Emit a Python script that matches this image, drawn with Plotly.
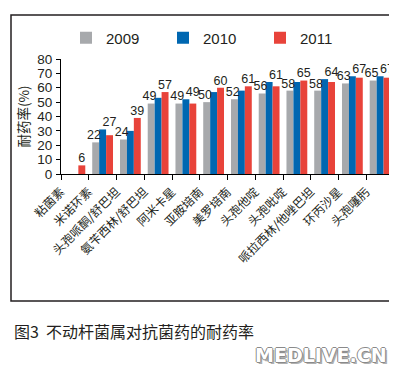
import plotly.graph_objects as go

categories = ["粘菌素", "米诺环素", "头孢哌酮/舒巴坦", "氨苄西林/舒巴坦", "阿米卡星", "亚胺培南",
              "美罗培南", "头孢他啶", "头孢吡啶", "哌拉西林/他唑巴坦", "环丙沙星", "头孢噻肟"]
years = ["2009", "2010", "2011"]
v2009 = [None, 22, 24, 49, 49, 50, 52, 56, 58, 58, 63, 65]
v2010 = [None, 31, 30, 53, 52, 57, 58, 64, 64, 66, 68, 68]
v2011 = [6, 27, 39, 57, 49, 60, 61, 61, 65, 64, 67, 67]
colors = ["#a7a9ac", "#0067b1", "#e8433a"]
y_ticks = [0, 10, 20, 30, 40, 50, 60, 70, 80]

FONT = "Liberation Sans, Arial, Noto Sans CJK SC, sans-serif"
CJK = "Noto Sans CJK SC, sans-serif"

W, H = 397, 369
L, R, T, B = 53, 11, 51, 203
pw, ph = W - L - R, H - T - B

def px_x(px):
    return (px - L) / pw

def px_y(py):
    return (H - B - py) / ph

xs = list(range(len(categories)))
fig = go.Figure()
for name, vals, col in zip(years, [v2009, v2010, v2011], colors):
    fig.add_trace(go.Bar(x=xs, y=vals, name=name, marker_color=col,
                         marker_line_width=0, showlegend=True))

bw = 0.75 / 3
fig.add_trace(go.Scatter(
    x=[i - bw - 0.06 for i in xs], y=v2009,
    text=[("" if v is None else str(v)) for v in v2009],
    mode="text", textposition="top center", showlegend=False, cliponaxis=False,
    textfont=dict(family=FONT, size=12.5, color="#231f20")))
top11 = [max([a for a in (b, r) if a is not None]) for b, r in zip(v2010, v2011)]
fig.add_trace(go.Scatter(
    x=[i + bw for i in xs], y=top11,
    text=[str(v) for v in v2011],
    mode="text", textposition="top center", showlegend=False, cliponaxis=False,
    textfont=dict(family=FONT, size=12.5, color="#231f20")))

fig.update_layout(
    width=W, height=H,
    margin=dict(l=L, r=R, t=T, b=B, autoexpand=False),
    paper_bgcolor="white", plot_bgcolor="white",
    barmode="group", bargap=0.25, bargroupgap=0,
    font=dict(family=FONT, color="#231f20"),
    legend=dict(orientation="h", x=px_x(58), y=px_y(30), xanchor="left", yanchor="middle",
                entrywidth=52, entrywidthmode="pixels",
                font=dict(family=FONT, size=15, color="#231f20"),
                bgcolor="rgba(0,0,0,0)", itemwidth=30, traceorder="normal"),
    xaxis=dict(range=[-0.5, len(categories) - 0.5],
               tickmode="array",
               tickvals=[i - 0.5 for i in range(len(categories) + 1)],
               ticktext=categories + [""],
               tickangle=-45, ticks="outside", ticklen=5, tickwidth=1.2, tickcolor="black",
               showline=True, linecolor="black", linewidth=1.2,
               showgrid=False, zeroline=False,
               tickfont=dict(family=CJK, size=12, color="#231f20")),
    yaxis=dict(range=[0, 80], tickvals=y_ticks,
               ticks="outside", ticklen=4, tickwidth=1.2, tickcolor="black",
               showline=True, linecolor="black", linewidth=1.2,
               showgrid=False, zeroline=False, ticklabelstandoff=1,
               tickfont=dict(family=FONT, size=13.5, color="#231f20"),
               title=dict(text="耐药率(%)", standoff=4,
                          font=dict(family=CJK, size=13.5, color="#231f20"))),
)

fig.add_shape(type="rect", xref="paper", yref="paper",
              x0=px_x(3), x1=px_x(392), y0=px_y(293), y1=px_y(7),
              line=dict(color="#231f20", width=1.5), fillcolor="rgba(0,0,0,0)", layer="below")

fig.add_annotation(text="图3  不动杆菌属对抗菌药的耐药率", xref="paper", yref="paper",
                   x=px_x(4), y=px_y(323), xanchor="left", yanchor="middle", showarrow=False,
                   font=dict(family=CJK, size=16, color="#231f20"))
fig.add_annotation(text="MEDLIVE.CN", xref="paper", yref="paper",
                   x=px_x(313), y=px_y(347), xanchor="center", yanchor="middle", showarrow=False,
                   font=dict(family="DejaVu Sans", size=19, weight="bold", color="white",
                             shadow="1px 0 0 #8a8a8a, -1px 0 0 #8a8a8a, 0 1px 0 #8a8a8a, 0 -1px 0 #8a8a8a, 2px 2px 0 #b0b0b0"))

fig.write_html("out.html")
